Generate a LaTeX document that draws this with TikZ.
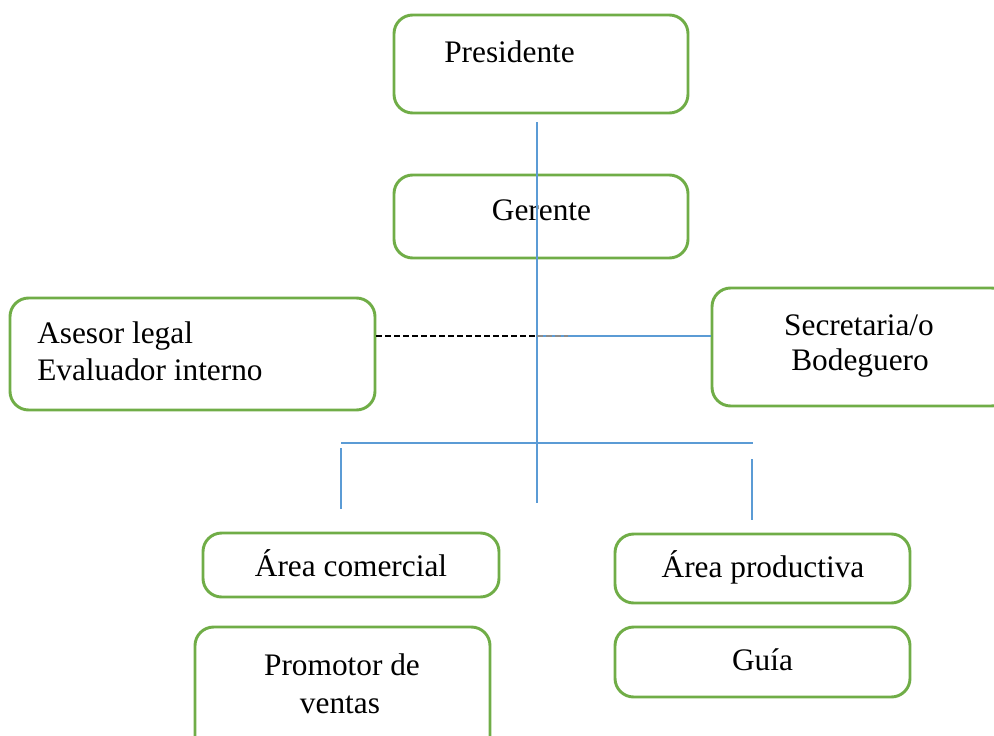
\documentclass[tikz,border=0pt]{standalone}
\usepackage{fontspec}
\setmainfont{Liberation Serif}
\usetikzlibrary{fit}
\definecolor{boxgreen}{RGB}{112,173,71}
\definecolor{linkblue}{RGB}{91,155,213}
\tikzset{
  unit/.style={draw=boxgreen, line width=2.2pt, rounded corners=14pt, inner sep=0pt},
  txt/.style={font=\fontsize{23.5}{27.75}\selectfont, inner sep=0pt, anchor=base},
  link/.style={draw=linkblue, line width=0.9pt},
  staffline/.style={dash pattern=on 4.5pt off 2.25pt, line width=0.8pt}
}
\begin{document}
\begin{tikzpicture}[x=0.75pt, y=-0.75pt]
  \useasboundingbox (0,0) rectangle (994,735);
  % ============= CAJAS
  \node[unit, fit={(394,15) (688,113)}] (pres) {};
  \node[unit, fit={(394,175) (688,258)}] (ger) {};
  \node[unit, fit={(10,298) (375,410)}] (ases) {};
  \node[unit, fit={(712,288) (1010,406)}] (secr) {};
  \node[unit, fit={(203,533) (499,597)}] (acom) {};
  \node[unit, fit={(615,534) (910,603)}] (apro) {};
  \node[unit, fit={(195,627) (490,760)}] (prom) {};
  \node[unit, fit={(615,627) (910,697)}] (guia) {};
  % ============= TEXTOS
  \node[txt, anchor=base west] (presT) at (444,63) {Presidente};
  \node[txt, anchor=base west] (asesA) at (37,343) {Asesor legal};
  \node[txt, anchor=base west] (asesB) at (37,380) {Evaluador interno};
  \foreach \p/\t [count=\i] in {(541.5,220)/Gerente, (859,335)/{Secretaria/o},
      (860,370)/Bodeguero, (351,576)/Área comercial, (342,675)/Promotor de,
      (340,713)/ventas, (763,577)/Área productiva, (762.5,670)/Guía}{
    \node[txt] (t\i) at \p {\t};}
  % ============= LINEAS
  \path (537,122) coordinate (vT) (537,503) coordinate (vB)
        (537,336) coordinate (mid) (568,336) coordinate (dE)
        (341,443) coordinate (hL) (753,443) coordinate (hR)
        (341,448) coordinate (lT) (341,509) coordinate (lB)
        (752,459) coordinate (rT) (752,520) coordinate (rB);
  \draw[link] (vT) -- (vB);
  \draw[link] (mid) -- (secr.west |- mid);
  \draw[link] (hL) -- (hR);
  \draw[link] (lT) -- (lB);
  \draw[link] (rT) -- (rB);
  \draw[staffline] (ases.east |- mid) -- (mid);
  \draw[staffline, black!45] (mid) -- (dE);
\end{tikzpicture}
\end{document}
